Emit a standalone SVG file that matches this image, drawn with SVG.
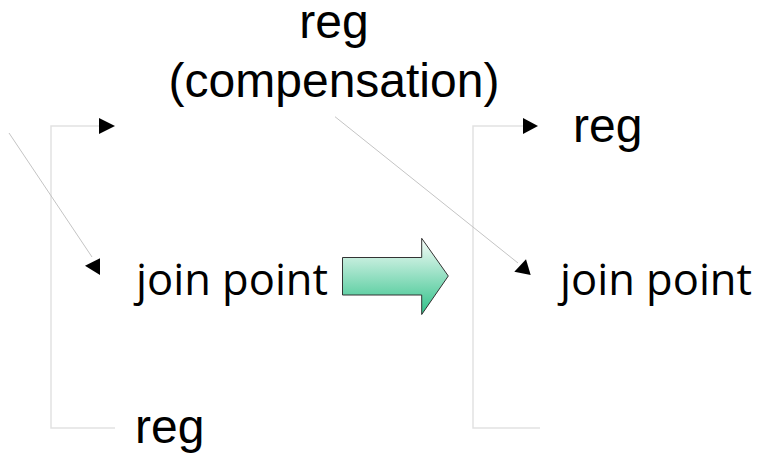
<svg xmlns="http://www.w3.org/2000/svg" width="757" height="456" viewBox="0 0 757 456">
  <style>
    .lbl { font-family: "Liberation Sans", Arial, sans-serif; font-size: 48px; fill: #000; }
    .jp { font-family: "Open Sans", "Noto Sans", sans-serif; font-size: 43.5px; fill: #000; }
    .bracket { fill: none; stroke: #e2e2e2; stroke-width: 1.5; }
    .diag { fill: none; stroke: #c4c4c4; stroke-width: 1; }
    .head { fill: #000; }
  </style>
  <defs>
    <linearGradient id="arrowFill" x1="0" y1="0" x2="0" y2="1">
      <stop offset="0" stop-color="#f8fdfa"/>
      <stop offset="1" stop-color="#30c189"/>
    </linearGradient>
  </defs>

  <!-- labels -->
  <g id="top-label">
    <text class="lbl" x="334" y="38" text-anchor="middle">reg</text>
    <text class="lbl" x="334" y="97" text-anchor="middle">(compensation)</text>
  </g>
  <g id="left-join">
    <text class="jp" x="136" y="295">join point</text>
  </g>
  <g id="left-reg">
    <text class="lbl" x="135" y="443">reg</text>
  </g>
  <g id="right-reg">
    <text class="lbl" x="573" y="142">reg</text>
  </g>
  <g id="right-join">
    <text class="jp" x="560" y="295">join point</text>
  </g>

  <!-- transformation arrow -->
  <g id="transform-arrow">
    <path d="M342.5,257.5 H421.7 V238.3 L448.3,276 L421.7,314.5 V295 H342.5 Z" fill="url(#arrowFill)" stroke="#333" stroke-width="1"/>
  </g>

  <!-- connectors -->
  <g id="connectors">
    <path class="bracket" d="M100,126 H51 V428 H115"/>
    <polygon class="head" points="99,118 115,126 99,134"/>
    <line class="diag" x1="9" y1="133" x2="92" y2="257"/>
    <polygon class="head" points="100,258.3 85,265.7 100,275"/>

    <path class="bracket" d="M523,126 H473 V428 H540"/>
    <polygon class="head" points="523,118 538,126 523,134"/>
    <line class="diag" x1="335" y1="116.7" x2="518" y2="263"/>
    <polygon class="head" points="526,259.3 514.3,271.7 530.7,275"/>
  </g>
</svg>
